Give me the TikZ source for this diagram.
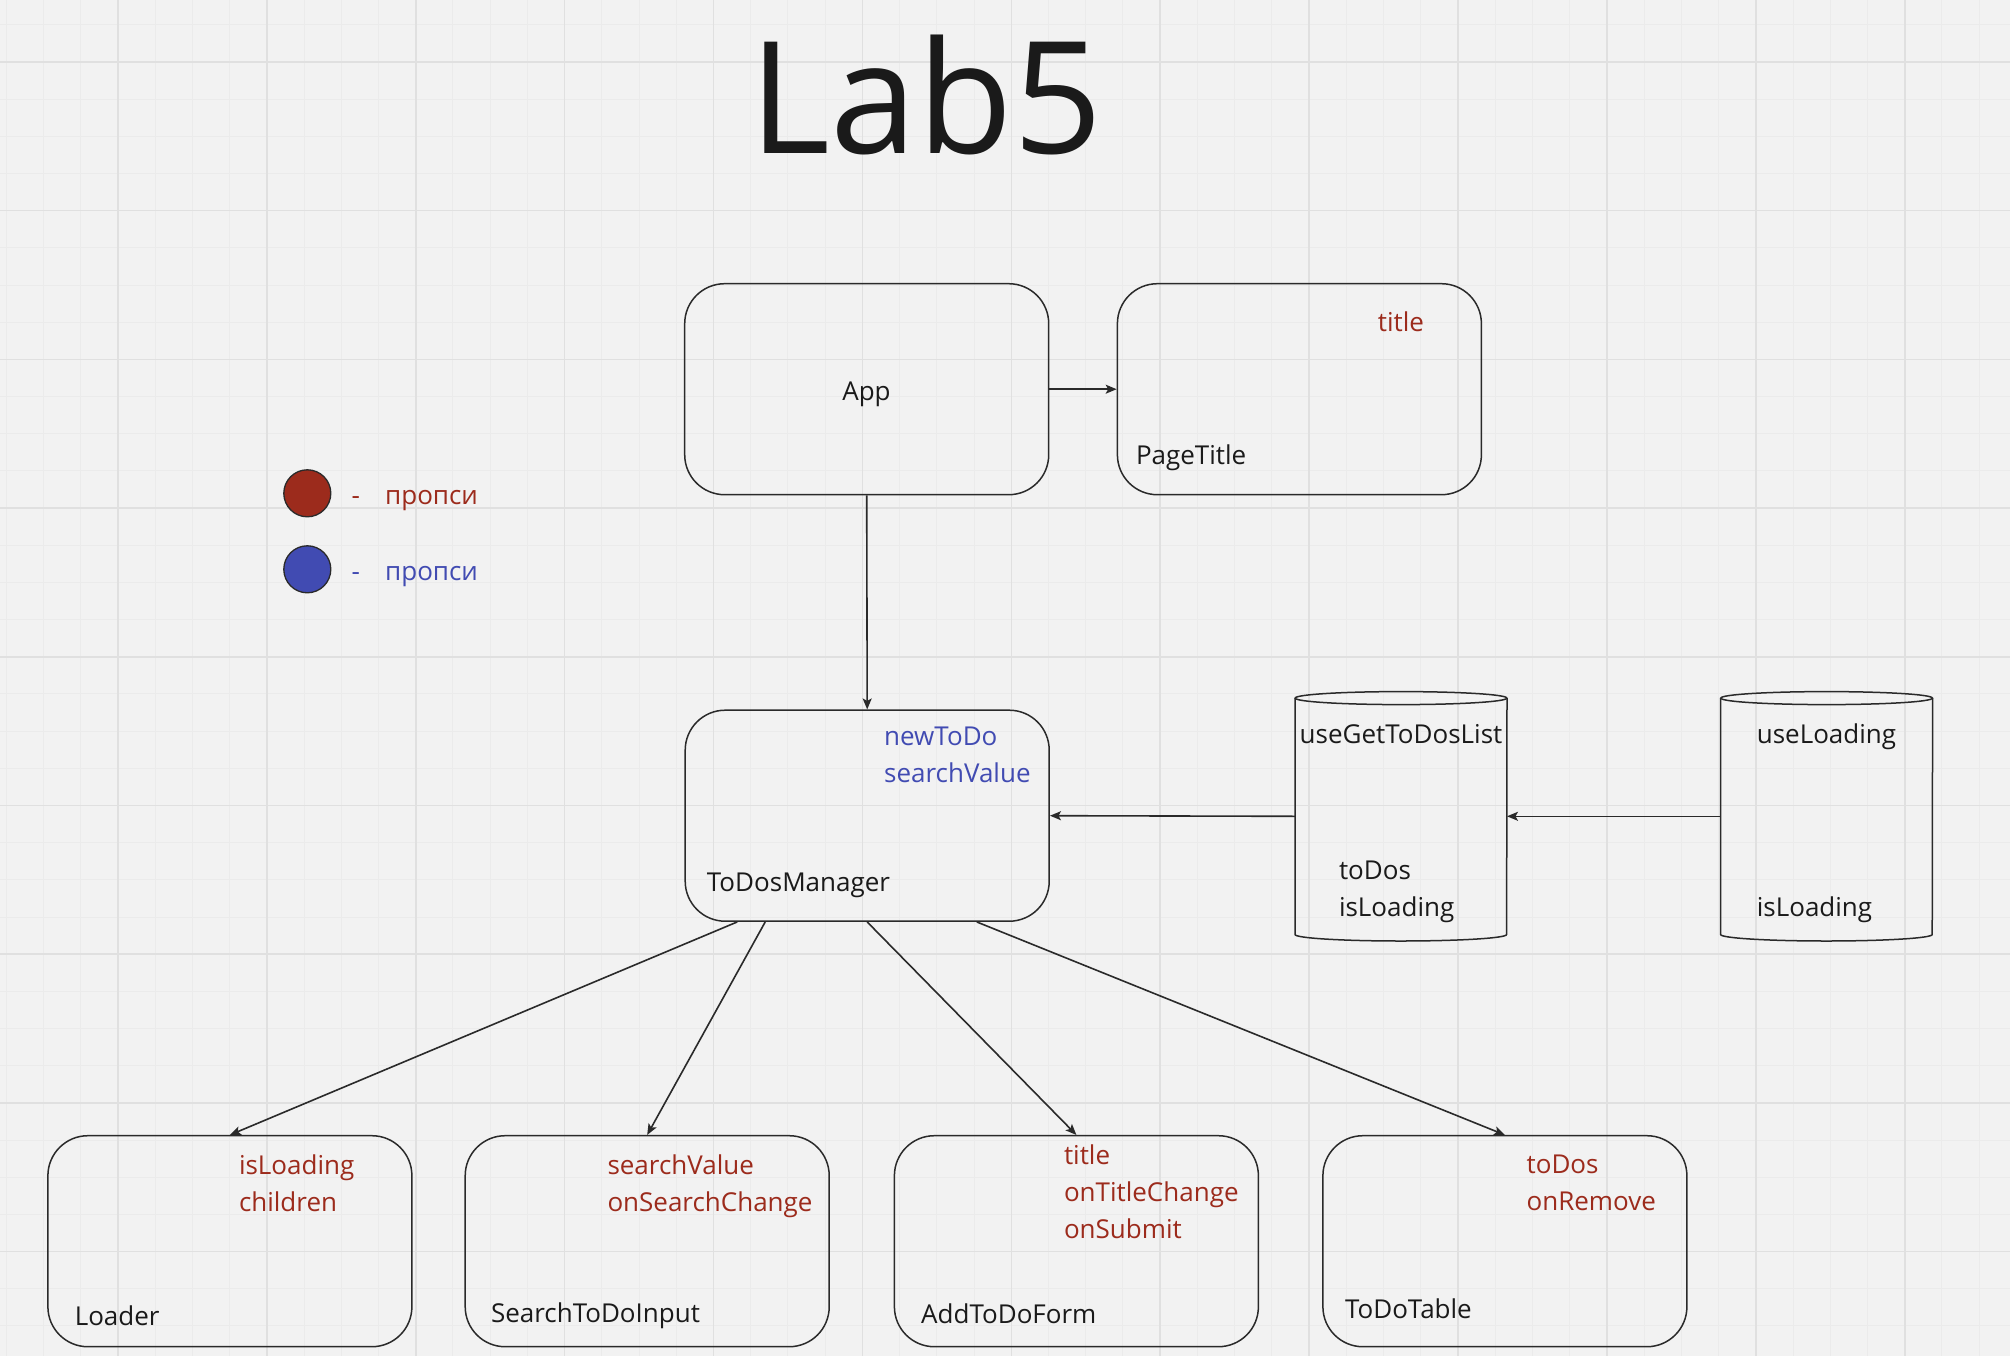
\documentclass[tikz,border=0pt]{standalone}
\usepackage{fontspec}
\setmainfont{Open Sans}
\usetikzlibrary{arrows.meta,calc}
\definecolor{bg}{HTML}{F2F2F2}
\definecolor{gridminor}{HTML}{EBEBEB}
\definecolor{gridmajor}{HTML}{E0E0E0}
\definecolor{ink}{HTML}{1A1A1A}
\definecolor{edge}{HTML}{2A2A2A}
\definecolor{propred}{HTML}{9C2B1C}
\definecolor{propblue}{HTML}{414BB2}

\begin{document}
\begin{tikzpicture}[x=1pt,y=-1pt,
  comp/.style={draw=edge, line width=1.5pt, rounded corners=40pt,
    minimum width=364pt, minimum height=211pt, inner sep=0pt},
  hook/.style={minimum width=211.6pt, minimum height=236pt, inner sep=0pt},
  hookline/.style={draw=edge, line width=1.5pt},
  % multi-line labels are placed by the baseline of their last line
  lbl/.style={anchor=base west, inner sep=0pt, font=\fontsize{26}{37}\selectfont,
    text=ink, align=left},
  prop/.style={lbl, text=propred},
  state/.style={lbl, text=propblue},
  key/.style={circle, draw=edge, line width=1.3pt, minimum size=47pt, inner sep=0pt},
  link/.style={draw=edge, line width=1.6pt, -{Stealth[length=11pt,width=9pt,inset=2.5pt]}},
]
% canvas and grid
\fill[bg] (0,0) rectangle (2010,1356);
\useasboundingbox (0,0) rectangle (2010,1356);
\begin{scope}
  \clip (0,0) rectangle (2010,1356);
  \foreach \i in {0,...,54}
    \draw[gridminor, line width=1pt] ({6.2+\i*37.225},0) -- ++(0,1356);
  \foreach \j in {0,...,36}
    \draw[gridminor, line width=1pt] (0,{24.8+\j*37.175}) -- ++(2010,0);
  \foreach \i in {0,...,12}
    \draw[gridmajor, line width=1.6pt] ({117.9+\i*148.9},0) -- ++(0,1356);
  \foreach \j in {0,...,8}
    \draw[gridmajor, line width=1.6pt] (0,{62+\j*148.7}) -- ++(2010,0);
\end{scope}

% heading
\node[anchor=base west, inner sep=0pt, font=\fontsize{156}{160}\selectfont, text=ink]
  (heading) at (749.5,153.3) {Lab5};

% legend
\node[key, fill=propred] (keyred) at (307.3,493.3) {};
\node[key, fill=propblue] (keyblue) at (307.3,569.3) {};
\node[prop] (keyredtext) at (351.5,504.3) {-\hspace{25.1pt}пропси};
\node[state] (keybluetext) at (351.5,580.3) {-\hspace{25.1pt}пропси};

% components
\node[comp] (app) at (866.7,389.2) {};
\node[comp] (pagetitle) at (1299.4,389.2) {};
\node[comp] (manager) at (867.2,815.7) {};
\node[comp] (loader) at (229.9,1241.2) {};
\node[comp] (search) at (647.2,1241.2) {};
\node[comp] (addform) at (1076.4,1241.2) {};
\node[comp] (table) at (1504.9,1241.2) {};

% hooks drawn as cylinders
\node[hook] (gettodos) at (1401,816.3) {};
\node[hook] (loading) at (1826.6,816.3) {};
\foreach \c in {gettodos,loading} {
  \draw[hookline] (\c.north) ellipse [x radius=105.8pt, y radius=6.5pt];
  \draw[hookline] (\c.north west) -- (\c.south west)
    arc[start angle=180, end angle=360, x radius=105.8pt, y radius=6.5pt]
    -- (\c.north east);
}

% texts inside the components
\node[lbl, anchor=base] (appname) at (866.5,400.3) {App};
\node[prop] (pagetitleprops) at (1377.7,331) {title};
\node[lbl] (pagetitlename) at (1135.8,464) {PageTitle};
\node[state] (managerstate) at (884,782) {newToDo\\searchValue};
\node[lbl] (managername) at (706.7,891) {ToDosManager};
\node[prop] (loaderprops) at (238.8,1211) {isLoading\\children};
\node[lbl] (loadername) at (74.6,1325) {Loader};
\node[prop] (searchprops) at (607.3,1211) {searchValue\\onSearchChange};
\node[lbl] (searchname) at (490.8,1322.7) {SearchToDoInput};
\node[prop] (addformprops) at (1063.8,1238.3) {title\\onTitleChange\\onSubmit};
\node[lbl] (addformname) at (921,1323.7) {AddToDoForm};
\node[prop] (tableprops) at (1526.4,1210.3) {toDos\\onRemove};
\node[lbl] (tablename) at (1344.8,1318.7) {ToDoTable};
\node[lbl, anchor=base] (gettodosname) at (1401,743.7) {useGetToDosList};
\node[lbl] (gettodosout) at (1338.8,916) {toDos\\isLoading};
\node[lbl] (loadingname) at (1756.6,743.7) {useLoading};
\node[lbl] (loadingout) at (1756.6,916) {isLoading};

% connectors
\draw[link] (app.east) -- (pagetitle.west);
\draw[link] (app.south) -- (manager.north);
\draw[link] (gettodos.west) -- (manager.east);
\draw[link] (loading.west) -- (gettodos.east);
\draw[link] ($(manager.south)+(-130,0)$) -- (loader.north);
\draw[link] ($(manager.south)+(-102,0)$) -- (search.north);
\draw[link] (manager.south) -- (addform.north);
\draw[link] ($(manager.south)+(109.6,0)$) -- (table.north);
\end{tikzpicture}
\end{document}
